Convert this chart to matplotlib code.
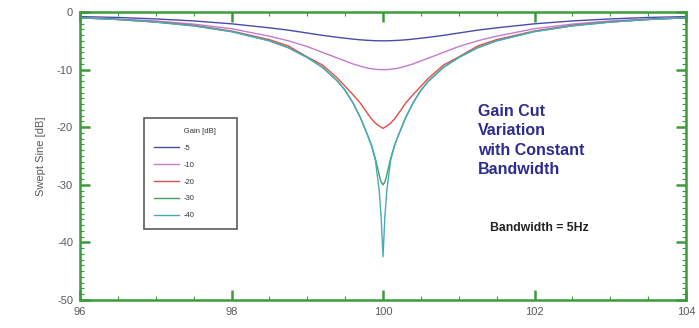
import matplotlib
matplotlib.use("Agg")
import matplotlib.pyplot as plt
from matplotlib.ticker import MultipleLocator

plt.rcParams['font.family'] = ['Liberation Sans', 'DejaVu Sans']

freq = [96, 96.5, 97, 97.5, 98, 98.5, 98.75, 99, 99.2, 99.4, 99.5, 99.6, 99.7, 99.8,
        99.85, 99.9, 99.95, 99.975, 100, 100.025, 100.05, 100.1, 100.15, 100.2, 100.3,
        100.4, 100.5, 100.6, 100.8, 101, 101.25, 101.5, 102, 102.5, 103, 103.5, 104]

gain_m5 = [-0.8, -0.95, -1.2, -1.55, -2.05, -2.75, -3.15, -3.65, -4.05, -4.4, -4.55, -4.7,
           -4.83, -4.92, -4.95, -4.98, -5.0, -5.0, -5.0, -5.0, -5.0, -4.98, -4.95, -4.92,
           -4.83, -4.7, -4.55, -4.4, -4.05, -3.65, -3.15, -2.75, -2.05, -1.55, -1.2, -0.95, -0.8]
gain_m10 = [-0.95, -1.2, -1.55, -2.1, -2.9, -4.2, -5.0, -6.0, -7.0, -8.0, -8.5, -9.0,
            -9.4, -9.75, -9.85, -9.95, -10.0, -10.0, -10.0, -10.0, -10.0, -9.95, -9.85, -9.75,
            -9.4, -9.0, -8.5, -8.0, -7.0, -6.0, -5.0, -4.2, -2.9, -2.1, -1.55, -1.2, -0.95]
gain_m20 = [-1.0, -1.3, -1.7, -2.3, -3.3, -4.8, -5.9, -7.8, -9.2, -11.5, -12.9, -14.3,
            -15.8, -17.7, -18.6, -19.3, -19.8, -20.0, -20.2, -20.0, -19.8, -19.3, -18.6, -17.7,
            -15.8, -14.3, -12.9, -11.5, -9.2, -7.8, -5.9, -4.8, -3.3, -2.3, -1.7, -1.3, -1.0]
gain_m30 = [-1.0, -1.3, -1.75, -2.4, -3.4, -5.0, -6.2, -7.9, -9.6, -12.0, -13.6, -15.7,
            -18.3, -21.5, -23.2, -25.5, -28.3, -29.5, -30.0, -29.5, -28.3, -25.5, -23.2, -21.5,
            -18.3, -15.7, -13.6, -12.0, -9.6, -7.9, -6.2, -5.0, -3.4, -2.4, -1.75, -1.3, -1.0]
gain_m40 = [-1.0, -1.3, -1.75, -2.4, -3.4, -5.0, -6.2, -7.9, -9.6, -12.0, -13.6, -15.7,
            -18.3, -21.5, -23.3, -25.8, -31.0, -35.5, -42.5, -35.5, -31.0, -25.8, -23.3, -21.5,
            -18.3, -15.7, -13.6, -12.0, -9.6, -7.9, -6.2, -5.0, -3.4, -2.4, -1.75, -1.3, -1.0]

series = [("-5", gain_m5, "#4a4aaa"),
          ("-10", gain_m10, "#c27ad2"),
          ("-20", gain_m20, "#e84a4a"),
          ("-30", gain_m30, "#3ea062"),
          ("-40", gain_m40, "#4aaab8")]

x_ticks = [96, 98, 100, 102, 104]
y_ticks = [0, -10, -20, -30, -40, -50]

fig = plt.figure(figsize=(6.99, 3.28), dpi=100)
ax = fig.add_axes([80/699, 1-300/328, 606/699, 288/328])

for label, vals, col in series:
    ax.plot(freq, vals, color=col, lw=1.0, label=label)

ax.set_xlim(96, 104)
ax.set_ylim(-50, 0)
ax.set_xticks(x_ticks)
ax.set_xticklabels([str(t) for t in x_ticks])
ax.set_yticks(y_ticks)
ax.set_yticklabels([str(t) for t in y_ticks])
ax.xaxis.set_minor_locator(MultipleLocator(0.5))
ax.yaxis.set_minor_locator(MultipleLocator(1))

spine_col = "#3c9c3c"
for s in ax.spines.values():
    s.set_color(spine_col)
    s.set_linewidth(1.8)
ax.tick_params(which='both', direction='in', top=True, right=True, color=spine_col,
               labelcolor="#5a5a5a", labelsize=8)
ax.tick_params(which='major', length=7, width=1.8, pad=5)
ax.tick_params(which='minor', length=3, width=0.8)

ax.set_ylabel("Swept Sine [dB]", color="#5a5a5a", fontsize=8, labelpad=8)

leg = ax.legend(title="              Gain [dB]     ", loc='upper left', bbox_to_anchor=(0.106, 0.632),
                fontsize=5.5, title_fontsize=5.5, frameon=True, fancybox=False,
                handlelength=3.2, labelspacing=1.25, borderpad=1.3, handletextpad=0.6,
                borderaxespad=0)
leg.get_frame().set_edgecolor("#333333")
leg.get_frame().set_linewidth(1.2)
leg._legend_box.align = "left"
for t in leg.get_texts():
    t.set_color("#333333")
leg.get_title().set_color("#333333")

fig.text(478/699, 1-104/328, "Gain Cut\nVariation\nwith Constant\nBandwidth",
         color="#2c2c8e", fontsize=11.5, fontweight='bold', va='top', ha='left',
         linespacing=1.37)
fig.text(490/699, 1-228/328, "Bandwidth = 5Hz", color="#222222", fontsize=8.8,
         fontweight='bold', va='center', ha='left')

fig.savefig("out.png", dpi=100)
